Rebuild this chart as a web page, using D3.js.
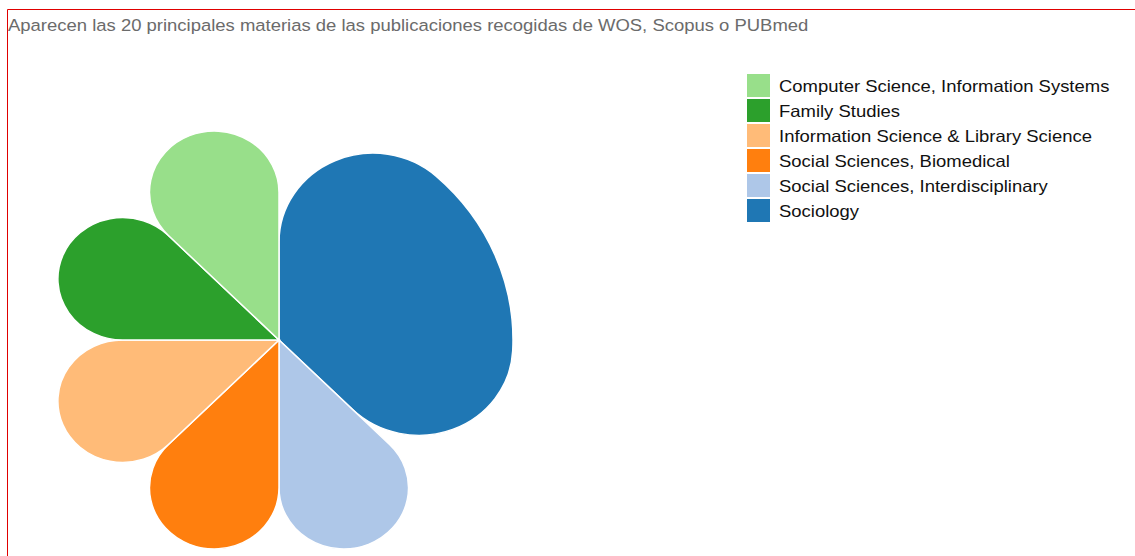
<!DOCTYPE html>
<html>
<head>
<meta charset="utf-8">
<script src="https://cdn.jsdelivr.net/npm/d3@7"></script>
<style>
  body { margin: 0; background: #fff; }
  svg { position: absolute; left: 0; top: 0; }
</style>
</head>
<body>
<div class="box"></div>
<script>
// données
const materias = ['Sociology', 'Social Sciences, Interdisciplinary', 'Social Sciences, Biomedical',
                  'Information Science & Library Science', 'Family Studies', 'Computer Science, Information Systems'];
const publicaciones = [3, 1, 1, 1, 1, 1];
const titulo = 'Aparecen las 20 principales materias de las publicaciones recogidas de WOS, Scopus o PUBmed';

const donnee = materias.map((nom, i) => ({nom: nom, valor: publicaciones[i]}));

const dims = {width: 1135, height: 556, radius: 234, cx: 279, cy: 340};

const svg = d3.select('.box')
              .append('svg')
              .attr('width', dims.width)
              .attr('height', dims.height);

// cadre rouge
svg.append('path')
   .attr('d', `M7.5,${dims.height + 10} V9.5 H${dims.width + 10}`)
   .attr('fill', 'none')
   .attr('stroke', '#e00000')
   .attr('stroke-width', 1);

// titre (police un peu plus large que Liberation)
svg.append('g')
   .attr('transform', 'translate(8, 31) scale(1.1, 1)')
   .append('text')
   .attr('font-family', 'Liberation Sans, Arial, sans-serif')
   .attr('font-size', 16.8)
   .attr('fill', '#6b6b6b')
   .text(titulo);

const graph = svg.append('g')
                 .attr('transform', `translate(${dims.cx}, ${dims.cy}) scale(1, 0.945)`);

const pie = d3.pie()
              .sort(null)
              .value(d => d.valor);

const arcPath = d3.arc()
                  .outerRadius(dims.radius)
                  .innerRadius(0)
                  .cornerRadius(94);

//////////////////couleurs///////////////////////
const couleur = d3.scaleOrdinal()
                  .domain(materias)
                  .range(['#1f77b4', '#aec7e8', '#ff7f0e', '#ffbb78', '#2ca02c', '#98df8a']);

graph.selectAll('path')
     .data(pie(donnee))
     .enter()
     .append('path')
     .attr('d', arcPath)
     .attr('fill', d => couleur(d.data.nom))
     .attr('stroke', '#fff')
     .attr('stroke-width', 1.5);

//////////////////legendes///////////////////////
const ordre = d3.sort(materias);

const groupeLegendes = svg.append('g')
                          .attr('transform', 'translate(747, 74)');

const items = groupeLegendes.selectAll('g')
                            .data(ordre)
                            .enter()
                            .append('g')
                            .attr('transform', (d, i) => `translate(0, ${i * 25})`);

items.append('rect')
     .attr('width', 23)
     .attr('height', 23)
     .attr('fill', d => couleur(d));

items.append('text')
     .attr('transform', 'translate(32, 17.5) scale(1.12, 1)')
     .attr('font-family', 'Liberation Sans, Arial, sans-serif')
     .attr('font-size', 16.5)
     .attr('fill', '#111')
     .text(d => d);
</script>
</body>
</html>
